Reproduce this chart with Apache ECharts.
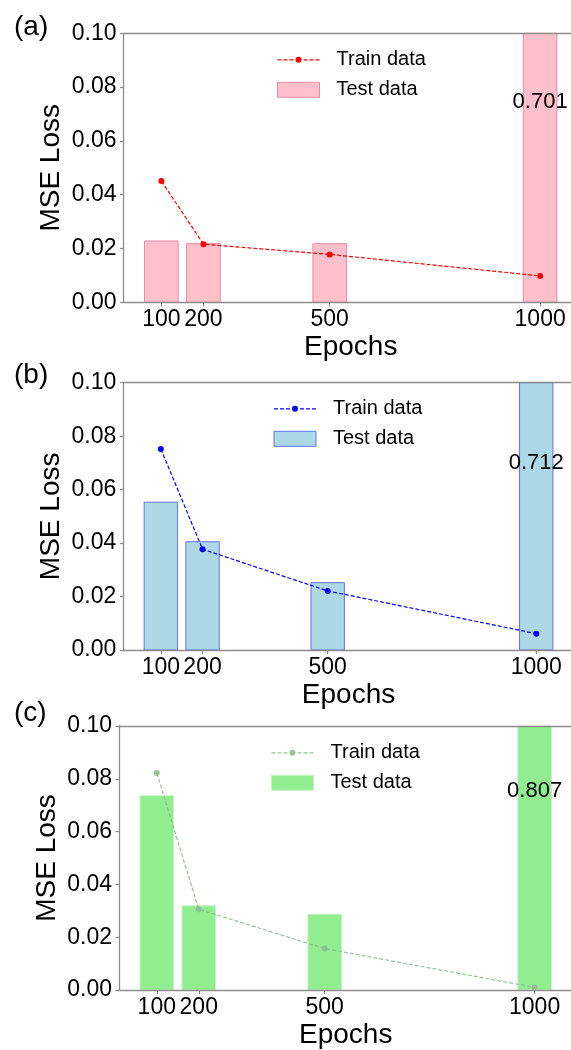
<!DOCTYPE html>
<html>
<head>
<meta charset="utf-8">
<script src="https://cdn.jsdelivr.net/npm/echarts@6/dist/echarts.min.js"></script>
<style>
  html, body { margin: 0; padding: 0; width: 571px; height: 1050px; overflow: hidden; background: #fff; }
  .panel { position: absolute; left: 0; top: 0; width: 580px; height: 1050px; }
</style>
</head>
<body>
<div id="pa" class="panel"></div>
<div id="pb" class="panel"></div>
<div id="pc" class="panel"></div>
<script>
// Training epochs (x positions) and y tick values
const epochs = [100, 200, 500, 1000];
const yTicks = [0, 0.02, 0.04, 0.06, 0.08, 0.10];

// MSE loss per model: train (dashed line) and test (bars)
const trainA = [0.0451, 0.0216, 0.0178, 0.0098];
const testA  = [0.0228, 0.0218, 0.0218, 0.701];
const trainB = [0.0752, 0.0377, 0.0221, 0.0061];
const testB  = [0.0553, 0.0405, 0.0252, 0.712];
const trainC = [0.0822, 0.0306, 0.0157, 0.0010];
const testC  = [0.0736, 0.0319, 0.0287, 0.807];

const FONT = '"Liberation Sans", Arial, Helvetica, sans-serif';
const SPINE = '#8c8c8c';
const BAR_SPAN = 80;       // bar width in epochs
const X_MIN = 10, X_MAX = 1090;
const Y_MAX = 0.1;

// legend handle for the train series: dashes either side of a dot (42 x 6 box)
const TRAIN_ICON = 'path://M0 2.4h4v1.2h-4z M6 2.4h4v1.2h-4z M12 2.4h4v1.2h-4z ' +
  'M18 3a3 3 0 1 0 6 0a3 3 0 1 0 -6 0z ' +
  'M26 2.4h4v1.2h-4z M32 2.4h4v1.2h-4z M38 2.4h4v1.2h-4z';

const panels = [
  { id: 'pa', tag: '(a)', tagTop: 13, left: 123.5, top: 33.3, width: 454.5, height: 269,
    legendLeft: 277, legendTop: 49.8, train: trainA, test: testA,
    line: '#ff0000', lineOpacity: 1, fill: '#ffc0cb', edge: '#e58fa5', noteY: 0.0746 },
  { id: 'pb', tag: '(b)', tagTop: 361, left: 123.3, top: 382.7, width: 450.5, height: 267.3,
    legendLeft: 273.5, legendTop: 398.8, train: trainB, test: testB,
    line: '#0000ff', lineOpacity: 1, fill: '#add8e6', edge: '#6272f5', noteY: 0.070 },
  { id: 'pc', tag: '(c)', tagTop: 699, left: 119, top: 726, width: 453.4, height: 269.7,
    legendLeft: 271, legendTop: 742.8, train: trainC, test: testC,
    line: '#8fbc8f', lineOpacity: 0.9, fill: '#90ee90', edge: '#c8f2c8', noteY: 0.0753 }
];

function barRenderer(p) {
  return function (params, api) {
    const x = api.value(0), v = api.value(1);
    const base = api.coord([x, 0]);
    const top = api.coord([x, v]);
    const w = api.size([BAR_SPAN, 0])[0];
    const yTop = Math.max(top[1], params.coordSys.y);
    const children = [{
      type: 'rect',
      shape: { x: base[0] - w / 2, y: yTop, width: w, height: base[1] - yTop },
      style: { fill: p.fill, stroke: p.edge, lineWidth: 1 }
    }];
    if (v > Y_MAX) {
      // value of an off-scale bar written inside it
      const at = api.coord([x, p.noteY]);
      children.push({
        type: 'text', x: at[0], y: at[1],
        style: { text: v.toFixed(3), fill: '#000', font: '22px ' + FONT, align: 'center', verticalAlign: 'middle' }
      });
    }
    return { type: 'group', children };
  };
}

function drawPanel(p) {
  const chart = echarts.init(document.getElementById(p.id), null, { renderer: 'canvas' });
  const axisLine = { show: true, lineStyle: { color: SPINE, width: 1.3 } };
  chart.setOption({
    backgroundColor: 'transparent',
    animation: false,
    grid: { left: p.left, top: p.top, width: p.width, height: p.height, containLabel: false },
    graphic: [{
      type: 'text', left: 14, top: p.tagTop,
      style: { text: p.tag, font: '28px ' + FONT, fill: '#000' }
    }],
    legend: {
      orient: 'vertical', left: p.legendLeft, top: p.legendTop, padding: 0,
      itemWidth: 42, itemHeight: 15, itemGap: 10,
      textStyle: { fontFamily: FONT, fontSize: 20, color: '#000', padding: [0, 0, 0, 12] },
      data: [
        { name: 'Train data', icon: TRAIN_ICON, itemStyle: { color: p.line, opacity: p.lineOpacity } },
        { name: 'Test data', icon: 'rect', itemStyle: { color: p.fill, borderColor: p.edge, borderWidth: 1 } }
      ]
    },
    xAxis: [{
      type: 'value', min: X_MIN, max: X_MAX, z: 3,
      name: 'Epochs', nameLocation: 'middle', nameGap: 31, nameMoveOverlap: false,
      nameTextStyle: { fontFamily: FONT, fontSize: 28, color: '#000' },
      axisLine,
      axisTick: { show: true, length: 4, customValues: epochs, lineStyle: { color: SPINE, width: 1.2 } },
      axisLabel: { customValues: epochs, formatter: v => String(v), fontFamily: FONT, fontSize: 23, color: '#000', margin: 6 },
      splitLine: { show: false }
    }, {
      type: 'value', position: 'top', min: X_MIN, max: X_MAX, z: 3,
      axisLine, axisTick: { show: false }, axisLabel: { show: false }, splitLine: { show: false }
    }],
    yAxis: {
      type: 'value', min: 0, max: Y_MAX, interval: 0.02, z: 3,
      name: 'MSE Loss', nameLocation: 'middle', nameGap: 58, nameMoveOverlap: false,
      nameTextStyle: { fontFamily: FONT, fontSize: 28, color: '#000' },
      axisLine,
      axisTick: { show: true, length: 3.5, customValues: yTicks, lineStyle: { color: SPINE, width: 1.2 } },
      axisLabel: { customValues: yTicks, formatter: v => v.toFixed(2), fontFamily: FONT, fontSize: 23, color: '#000', margin: 7 },
      splitLine: { show: false }
    },
    series: [{
      name: 'Test data', type: 'custom', z: 2,
      itemStyle: { color: p.fill, borderColor: p.edge, borderWidth: 1 },
      renderItem: barRenderer(p),
      encode: { x: 0, y: 1 },
      data: epochs.map((e, i) => [e, p.test[i]])
    }, {
      name: 'Train data', type: 'line', z: 4,
      symbol: 'circle', symbolSize: 6,
      itemStyle: { color: p.line, opacity: p.lineOpacity },
      lineStyle: { color: p.line, width: 1.2, type: [4, 2], opacity: p.lineOpacity },
      data: epochs.map((e, i) => [e, p.train[i]])
    }]
  });
}

panels.forEach(drawPanel);
</script>
</body>
</html>
